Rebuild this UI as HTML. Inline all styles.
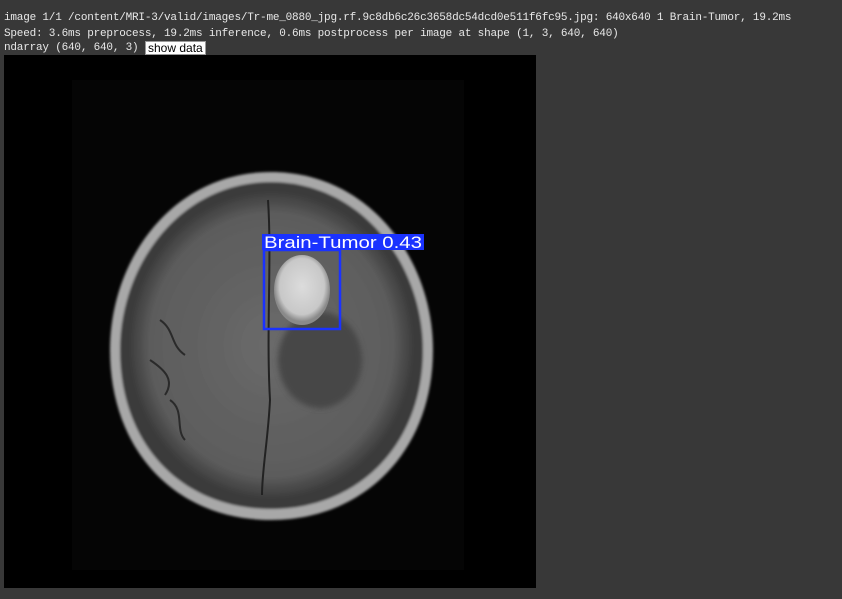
<!DOCTYPE html>
<html><head><meta charset="utf-8"><style>
body{margin:0;width:842px;height:599px;background:#383838;overflow:hidden;font-family:"Liberation Mono",monospace;}
.t{position:absolute;left:4px;font-size:11px;letter-spacing:-0.2px;color:#e8e8e8;white-space:pre;line-height:14px;}
#btn{position:absolute;left:145px;top:41px;background:#fff;color:#000;font-family:"Liberation Sans",sans-serif;font-size:12px;line-height:12px;padding:0 2px;border:1px solid #999;}
svg{position:absolute;left:4px;top:55px;}
</style></head><body>
<div class="t" style="top:11px">image 1/1 /content/MRI-3/valid/images/Tr-me_0880_jpg.rf.9c8db6c26c3658dc54dcd0e511f6fc95.jpg: 640x640 1 Brain-Tumor, 19.2ms</div>
<div class="t" style="top:27px">Speed: 3.6ms preprocess, 19.2ms inference, 0.6ms postprocess per image at shape (1, 3, 640, 640)</div>
<div class="t" style="top:41px">ndarray (640, 640, 3)</div>
<div id="btn">show data</div>
<svg width="532" height="533" viewBox="4 55 532 533">
<defs>
<radialGradient id="br" cx="0.5" cy="0.5" r="0.5"><stop offset="0" stop-color="#6a6a6a"/><stop offset="0.85" stop-color="#5c5c5c"/><stop offset="1" stop-color="#3a3a3a"/></radialGradient>
<radialGradient id="tm" cx="0.5" cy="0.45" r="0.5"><stop offset="0" stop-color="#dcdcdc"/><stop offset="0.8" stop-color="#c8c8c8"/><stop offset="1" stop-color="#8a8a8a"/></radialGradient>
<filter id="bl"><feGaussianBlur stdDeviation="3"/></filter>
<filter id="b1"><feGaussianBlur stdDeviation="1.2"/></filter>
</defs>
<rect x="4" y="55" width="532" height="533" fill="#000"/>
<rect x="72" y="80" width="392" height="490" fill="#050505"/>
<g filter="url(#b1)">
<path d="M271,172 C370,172 433,260 433,350 C433,450 365,520 271,520 C175,520 110,450 110,350 C110,260 172,172 271,172Z" fill="#a8a8a8"/>
<path d="M271,182 C362,182 423,265 423,350 C423,445 358,509 271,509 C182,509 120,445 120,350 C120,265 180,182 271,182Z" fill="#3a3a3a"/>
<path d="M271,190 C356,190 415,268 415,350 C415,440 354,500 271,500 C186,500 128,440 128,350 C128,268 186,190 271,190Z" fill="url(#br)"/>
</g>
<ellipse cx="320" cy="360" rx="42" ry="48" fill="#464646" filter="url(#bl)"/>
<path d="M268,200 C272,260 266,330 270,400 C268,440 262,470 262,495" stroke="#222" stroke-width="2" fill="none"/>
<path d="M160,320 C175,330 170,345 185,355 M150,360 C165,370 175,380 165,395 M170,400 C185,410 175,430 185,440" stroke="#2a2a2a" stroke-width="2" fill="none"/>
<ellipse cx="302" cy="290" rx="28" ry="35" fill="url(#tm)"/>
<rect x="264" y="250" width="76" height="79" fill="none" stroke="#1a32ff" stroke-width="2.5"/>
<rect x="262" y="234" width="162" height="16" fill="#1a32ff"/>
<text x="264" y="248" font-family="Liberation Sans, sans-serif" font-size="17" fill="#fff" textLength="158" lengthAdjust="spacingAndGlyphs">Brain-Tumor 0.43</text>
</svg>
</body></html>
